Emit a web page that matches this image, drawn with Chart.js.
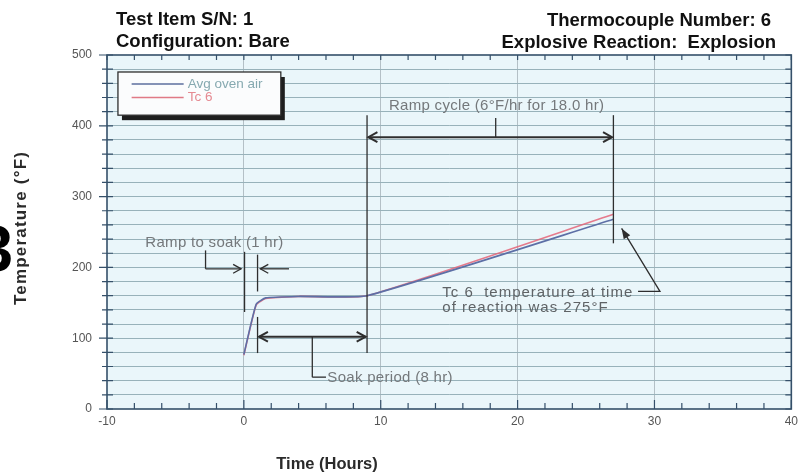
<!DOCTYPE html>
<html>
<head>
<meta charset="utf-8">
<script src="https://cdn.jsdelivr.net/npm/chart.js@4.4.1/dist/chart.umd.min.js"></script>
<style>
  html, body { margin: 0; padding: 0; background: #fff; }
  #wrap { width: 803px; height: 472px; position: relative; }
</style>
</head>
<body>
<div id="wrap"><canvas id="chart" width="803" height="472"></canvas></div>
<script>
// ====== DATA ======
const timeHr     = [0, 0.9, 1.6, 4, 9, 27];
const avgOvenAir = [77, 148, 157, 159, 160, 268];
const tc6Temp    = [76, 147, 156, 159, 160, 275];
const seriesNames = ['Avg oven air', 'Tc 6'];
const xMajorTicks = [-10, 0, 10, 20, 30, 40];
const yMajorTicks = [0, 100, 200, 300, 400, 500];

const FONT = '"Liberation Sans", Arial, sans-serif';
const NOTE = '#74787b';

// ====== HELPERS ======
function arrowHead(ctx, x, y, dir, len) {
  // open chevron pointing in dir (+1 right, -1 left)
  ctx.beginPath();
  ctx.moveTo(x - dir * len, y - len * 0.55);
  ctx.lineTo(x, y);
  ctx.lineTo(x - dir * len, y + len * 0.55);
  ctx.stroke();
}

function hLine(ctx, xs, ys, x1, x2, y) {
  ctx.beginPath();
  ctx.moveTo(xs.getPixelForValue(x1), ys.getPixelForValue(y));
  ctx.lineTo(xs.getPixelForValue(x2), ys.getPixelForValue(y));
  ctx.stroke();
}
function vLine(ctx, xs, ys, x, y1, y2) {
  ctx.beginPath();
  ctx.moveTo(xs.getPixelForValue(x), ys.getPixelForValue(y1));
  ctx.lineTo(xs.getPixelForValue(x), ys.getPixelForValue(y2));
  ctx.stroke();
}

// ====== PLUGINS ======
const plotBack = {
  id: 'plotBack',
  beforeDraw(chart) {
    const { ctx, chartArea: a } = chart;
    ctx.save();
    ctx.fillStyle = '#eaf6fa';
    ctx.fillRect(a.left, a.top, a.right - a.left, a.bottom - a.top);
    ctx.restore();
  }
};

const frameTicks = {
  id: 'frameTicks',
  beforeDatasetsDraw(chart) {
    const { ctx, chartArea: a, scales: { x, y } } = chart;
    ctx.save();
    ctx.strokeStyle = '#35506a';
    ctx.lineWidth = 1.6;
    ctx.strokeRect(a.left, a.top, a.right - a.left, a.bottom - a.top);
    ctx.lineWidth = 1.2;
    // y ticks every 20 on both sides
    for (let v = 0; v <= 500; v += 20) {
      const py = y.getPixelForValue(v);
      const big = v % 100 === 0 ? 8 : 5;
      ctx.beginPath();
      ctx.moveTo(a.left - big, py); ctx.lineTo(a.left + 6, py);
      ctx.moveTo(a.right - 6, py); ctx.lineTo(a.right, py);
      ctx.stroke();
    }
    // x ticks every 2 hr, bottom and top
    for (let v = -10; v <= 40; v += 2) {
      const px = x.getPixelForValue(v);
      const big = v % 10 === 0 ? 9 : 6;
      ctx.beginPath();
      ctx.moveTo(px, a.bottom); ctx.lineTo(px, a.bottom - big);
      ctx.moveTo(px, a.top); ctx.lineTo(px, a.top + 5);
      ctx.stroke();
    }
    ctx.restore();
  }
};

const notes = {
  id: 'notes',
  afterDatasetsDraw(chart) {
    const { ctx, scales: { x, y } } = chart;
    const X = v => x.getPixelForValue(v), Y = v => y.getPixelForValue(v);
    ctx.save();
    ctx.strokeStyle = '#2e2e2e';
    ctx.lineWidth = 1.3;
    ctx.textBaseline = 'middle';

    // legend box with drop shadow
    const lx1 = X(-9.2), lx2 = X(2.7), ly1 = Y(476), ly2 = Y(415);
    ctx.fillStyle = '#1e1e1e';
    ctx.fillRect(lx1 + 4, ly1 + 5, lx2 - lx1, ly2 - ly1);
    ctx.fillStyle = '#fbfcfd';
    ctx.fillRect(lx1, ly1, lx2 - lx1, ly2 - ly1);
    ctx.strokeRect(lx1, ly1, lx2 - lx1, ly2 - ly1);
    ctx.lineWidth = 1.5;
    ctx.strokeStyle = '#5c6f9e';
    hLine(ctx, x, y, -8.2, -4.4, 459);
    ctx.strokeStyle = '#e07a86';
    hLine(ctx, x, y, -8.2, -4.4, 440);
    ctx.font = '13.5px ' + FONT;
    ctx.fillStyle = '#86a9b0';
    ctx.fillText(seriesNames[0], X(-4.1), Y(459));
    ctx.fillStyle = '#e58a92';
    ctx.fillText(seriesNames[1], X(-4.1), Y(440));

    ctx.strokeStyle = '#2e2e2e';
    ctx.lineWidth = 1.3;
    ctx.fillStyle = NOTE;
    ctx.font = '15px ' + FONT;
    ctx.letterSpacing = '0.3px';

    // ramp to soak
    ctx.fillText('Ramp to soak (1 hr)', X(-7.2), Y(234));
    vLine(ctx, x, y, -2.8, 224, 198);
    hLine(ctx, x, y, -2.8, -0.2, 198);
    arrowHead(ctx, X(-0.2), Y(198), 1, 8);
    vLine(ctx, x, y, 0.05, 222, 137);
    vLine(ctx, x, y, 1.0, 218, 166);
    vLine(ctx, x, y, 1.0, 130, 79);
    hLine(ctx, x, y, 1.2, 3.3, 198);
    arrowHead(ctx, X(1.2), Y(198), -1, 8);

    // soak period
    ctx.lineWidth = 2;
    hLine(ctx, x, y, 1.1, 8.9, 102);
    arrowHead(ctx, X(1.1), Y(102), -1, 9);
    arrowHead(ctx, X(8.9), Y(102), 1, 9);
    ctx.lineWidth = 1.3;
    vLine(ctx, x, y, 5.0, 102, 45);
    hLine(ctx, x, y, 5.0, 6.0, 45);
    ctx.fillText('Soak period (8 hr)', X(6.1), Y(44));

    // ramp cycle
    vLine(ctx, x, y, 9, 415, 79);
    vLine(ctx, x, y, 27, 415, 234);
    ctx.lineWidth = 2;
    hLine(ctx, x, y, 9.1, 26.9, 384);
    arrowHead(ctx, X(9.1), Y(384), -1, 9);
    arrowHead(ctx, X(26.9), Y(384), 1, 9);
    ctx.lineWidth = 1.3;
    vLine(ctx, x, y, 18.4, 411, 384);
    ctx.fillText('Ramp cycle (6\u00b0F/hr for 18.0 hr)', X(10.6), Y(428));

    // reaction temperature
    ctx.fillStyle = '#5f6366';
    ctx.font = '15px ' + FONT;
    ctx.letterSpacing = '1px';
    ctx.fillText('Tc 6  temperature at time', X(14.5), Y(164));
    ctx.fillText('of reaction was 275\u00b0F', X(14.5), Y(143));
    ctx.letterSpacing = '0px';
    ctx.beginPath();
    ctx.moveTo(X(28.8), Y(166));
    ctx.lineTo(X(30.4), Y(166));
    ctx.lineTo(X(27.6), Y(255));
    ctx.stroke();
    // filled arrow tip at the end point
    const tx = X(27.6), ty = Y(255);
    const ang = Math.atan2(Y(166) - ty, X(30.4) - tx);
    ctx.fillStyle = '#2e2e2e';
    ctx.beginPath();
    ctx.moveTo(tx, ty);
    ctx.lineTo(tx + 11 * Math.cos(ang + 0.35), ty + 11 * Math.sin(ang + 0.35));
    ctx.lineTo(tx + 11 * Math.cos(ang - 0.35), ty + 11 * Math.sin(ang - 0.35));
    ctx.closePath();
    ctx.fill();
    ctx.restore();
  },
  afterDraw(chart) {
    const { ctx } = chart;
    ctx.save();
    ctx.fillStyle = '#111';
    ctx.textBaseline = 'alphabetic';
    ctx.font = 'bold 18.5px ' + FONT;
    ctx.textAlign = 'left';
    ctx.fillText('Test Item S/N: 1', 116, 25);
    ctx.fillText('Configuration: Bare', 116, 47);
    ctx.textAlign = 'right';
    ctx.fillText('Thermocouple Number: 6', 771, 26);
    ctx.fillText('Explosive Reaction:  Explosion', 776, 48);

    // axis titles
    ctx.fillStyle = '#2a2a2a';
    ctx.textAlign = 'center';
    ctx.font = 'bold 16.5px ' + FONT;
    ctx.fillText('Time (Hours)', 327, 469);
    ctx.save();
    ctx.translate(26, 228);
    ctx.rotate(-Math.PI / 2);
    ctx.font = 'bold 17px ' + FONT;
    ctx.letterSpacing = '1.2px';
    ctx.fillText('Temperature (\u00b0F)', 0, 0);
    ctx.restore();

    // stray figure number at the page edge
    ctx.fillStyle = '#000';
    ctx.textAlign = 'right';
    ctx.font = 'bold 64px ' + FONT;
    ctx.fillText('3', 13, 271);
    ctx.restore();
  }
};

// ====== CHART ======
const ctx = document.getElementById('chart').getContext('2d');
new Chart(ctx, {
  type: 'line',
  data: {
    datasets: [
      {
        label: seriesNames[0],
        data: timeHr.map((t, i) => ({ x: t, y: avgOvenAir[i] })),
        borderColor: '#5d6fa6',
        borderWidth: 1.6,
        pointRadius: 0,
        tension: 0.15
      },
      {
        label: seriesNames[1],
        data: timeHr.map((t, i) => ({ x: t, y: tc6Temp[i] })),
        borderColor: 'rgba(228,100,120,0.85)',
        borderWidth: 1.6,
        pointRadius: 0,
        tension: 0.15
      }
    ]
  },
  options: {
    responsive: false,
    animation: false,
    layout: { autoPadding: false, padding: { left: 0, right: 5, top: 55, bottom: 0 } },
    plugins: { legend: { display: false }, tooltip: { enabled: false } },
    scales: {
      x: {
        type: 'linear',
        min: -10, max: 40,
        afterFit(s) { s.height = 63; },
        ticks: {
          stepSize: 2, autoSkip: false, maxRotation: 0, padding: 5,
          color: '#555', font: { family: FONT, size: 12 },
          callback: v => xMajorTicks.includes(v) ? String(v) : ''
        },
        grid: {
          drawTicks: false,
          color: c => (c.tick && c.tick.value % 10 === 0 && c.tick.value > -10 && c.tick.value < 40) ? '#b4c0c6' : 'rgba(0,0,0,0)'
        },
        border: { display: false }
      },
      y: {
        min: 0, max: 500,
        afterFit(s) { s.width = 107; },
        ticks: {
          stepSize: 20, autoSkip: false, padding: 15,
          color: '#555', font: { family: FONT, size: 12 },
          callback: v => yMajorTicks.includes(v) ? String(v) : ''
        },
        grid: {
          drawTicks: false,
          lineWidth: 1,
          color: c => (c.tick && c.tick.value > 0 && c.tick.value < 500) ? '#98b2ba' : 'rgba(0,0,0,0)'
        },
        border: { display: false }
      }
    }
  },
  plugins: [plotBack, frameTicks, notes]
});
</script>
</body>
</html>
